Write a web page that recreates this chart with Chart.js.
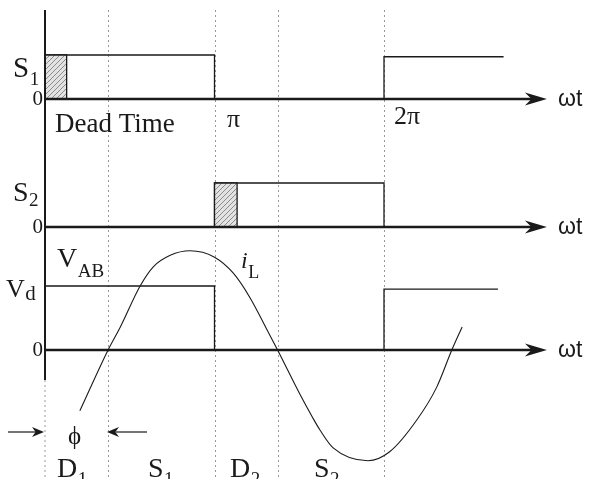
<!DOCTYPE html>
<html>
<head>
<meta charset="utf-8">
<script src="https://cdn.jsdelivr.net/npm/chart.js@4.4.0/dist/chart.umd.min.js"></script>
<style>
html, body { margin: 0; padding: 0; background: #fff; }
#wrap { width: 589px; height: 479px; }
</style>
</head>
<body>
<div id="wrap"><canvas id="chart" width="589" height="479"></canvas></div>
<script>
// ωt in degrees, levels normalised (switch on = 1, V_AB = Vd = 1)
const s1X = [0, 180, 180, 360, 360, 487];
const s1Y = [1, 1, 0, 0, 0.96, 0.96];
const s1DeadX = [0, 23, 23];
const s1DeadY = [1, 1, 0];
const s2X = [180, 180, 360, 360];
const s2Y = [0, 1, 1, 0];
const s2DeadX = [180, 180, 204, 204];
const s2DeadY = [0, 1, 1, 0];
const vabX = [0, 180, 180, 360, 360, 481];
const vabY = [1, 1, 0, 0, 0.95, 0.95];
// inductor current
const iLX = [37, 67, 80, 101, 115, 133, 154, 180, 200, 218, 236, 247, 271, 284, 292, 306, 343, 366, 395, 416, 432, 443];
const iLY = [-0.95, 0, 0.36, 1.0, 1.30, 1.48, 1.55, 1.45, 1.20, 0.81, 0.31, 0, -0.70, -1.05, -1.25, -1.53, -1.73, -1.59, -1.09, -0.58, 0, 0.36];
// dotted guide lines (ϕ, π, zero crossing, 2π)
const guideAngles = [67, 180, 247, 360];
const axisEnd = 533;

function pts(xs, ys) {
    return xs.map((x, i) => ({ x: x, y: ys[i] }));
}

function hatch() {
    const c = document.createElement('canvas');
    c.width = 5; c.height = 5;
    const g = c.getContext('2d');
    g.fillStyle = '#e2e2e2';
    g.fillRect(0, 0, 5, 5);
    g.strokeStyle = '#8c8c8c';
    g.lineWidth = 1;
    g.beginPath(); g.moveTo(0, 5); g.lineTo(5, 0); g.stroke();
    return g.createPattern(c, 'repeat');
}

const ink = '#1a1a1a';
const serif = '"Liberation Serif", "Times New Roman", serif';
const sans = '"Liberation Sans", Arial, sans-serif';

function text(ctx, str, x, y, size, font, style) {
    ctx.font = (style || '') + ' ' + size + 'px ' + font;
    ctx.fillText(str, x, y);
    return x + ctx.measureText(str).width;
}

// main letter with subscript right behind it
function sub(ctx, main, small, x, y, size, subSize, drop, style) {
    const end = text(ctx, main, x, y, size, serif, style);
    text(ctx, small, end + 0.5, y + drop, subSize, serif);
}

function arrowHead(ctx, x, y, dir, len, half) {
    ctx.beginPath();
    ctx.moveTo(x, y);
    ctx.lineTo(x - dir * len, y - half);
    ctx.lineTo(x - dir * len * 0.7, y);
    ctx.lineTo(x - dir * len, y + half);
    ctx.closePath();
    ctx.fill();
}

const decor = {
    id: 'decor',
    beforeDatasetsDraw(chart) {
        const ctx = chart.ctx;
        const x = chart.scales.x;
        ctx.save();
        ctx.strokeStyle = '#999';
        ctx.lineWidth = 1;
        ctx.setLineDash([2, 3]);
        guideAngles.forEach(a => {
            const px = Math.round(x.getPixelForValue(a)) + 0.5;
            ctx.beginPath(); ctx.moveTo(px, 10); ctx.lineTo(px, 479); ctx.stroke();
        });
        const x0 = x.getPixelForValue(0);
        ctx.beginPath(); ctx.moveTo(x0, 380); ctx.lineTo(x0, 479); ctx.stroke();
        ctx.restore();
    },
    afterDatasetsDraw(chart) {
        const ctx = chart.ctx;
        const x = chart.scales.x;
        const x0 = x.getPixelForValue(0);
        const xe = x.getPixelForValue(axisEnd);
        ctx.save();
        ctx.strokeStyle = ink;
        ctx.fillStyle = ink;
        // vertical axis
        ctx.lineWidth = 2;
        ctx.beginPath(); ctx.moveTo(x0, 10); ctx.lineTo(x0, 380); ctx.stroke();
        // zero axes with arrows
        ['yS1', 'yS2', 'yV'].forEach(id => {
            const y0 = chart.scales[id].getPixelForValue(0);
            ctx.lineWidth = 2.5;
            ctx.beginPath(); ctx.moveTo(x0, y0); ctx.lineTo(xe - 10, y0); ctx.stroke();
            arrowHead(ctx, xe, y0, 1, 22, 6.5);
            text(ctx, 'ωt', 558, y0 + 7, 23, sans);
            ctx.textAlign = 'right';
            ctx.textBaseline = 'middle';
            text(ctx, '0', 43, y0, 21, serif);
            ctx.textAlign = 'left';
            ctx.textBaseline = 'alphabetic';
        });
        // labels
        sub(ctx, 'S', '1', 13, 77, 29, 19, 8);
        text(ctx, 'Dead Time', 55, 132, 27, serif);
        text(ctx, 'π', 227, 127, 26, serif);
        text(ctx, '2π', 394, 124, 26, serif);
        sub(ctx, 'S', '2', 13, 201, 28, 19, 5);
        sub(ctx, 'V', 'AB', 57, 267, 28, 19, 10);
        sub(ctx, 'V', 'd', 6, 297, 26, 21, 3);
        sub(ctx, 'i', 'L', 241, 268, 24, 18, 10, 'italic');
        // phase angle arrows
        ctx.lineWidth = 1.2;
        ctx.beginPath(); ctx.moveTo(8, 432); ctx.lineTo(36, 432); ctx.stroke();
        arrowHead(ctx, 44, 432, 1, 12, 5);
        ctx.beginPath(); ctx.moveTo(147, 432); ctx.lineTo(116, 432); ctx.stroke();
        arrowHead(ctx, 107, 432, -1, 12, 5);
        text(ctx, 'ϕ', 68, 444, 25, serif);
        // conduction intervals
        sub(ctx, 'D', '1', 57, 477, 28, 19, 8);
        sub(ctx, 'S', '1', 148, 477, 28, 19, 8);
        sub(ctx, 'D', '2', 230, 477, 28, 19, 8);
        sub(ctx, 'S', '2', 314, 477, 28, 19, 8);
        ctx.restore();
    }
};

const pattern = hatch();
const lineStyle = { borderColor: ink, borderWidth: 1.3, pointRadius: 0, tension: 0, fill: false, clip: false };

new Chart(document.getElementById('chart'), {
    type: 'line',
    data: {
        datasets: [
            Object.assign({}, lineStyle, { label: 'S1 dead', data: pts(s1DeadX, s1DeadY), yAxisID: 'yS1', fill: 'origin', backgroundColor: pattern }),
            Object.assign({}, lineStyle, { label: 'S1', data: pts(s1X, s1Y), yAxisID: 'yS1' }),
            Object.assign({}, lineStyle, { label: 'S2 dead', data: pts(s2DeadX, s2DeadY), yAxisID: 'yS2', fill: 'origin', backgroundColor: pattern }),
            Object.assign({}, lineStyle, { label: 'S2', data: pts(s2X, s2Y), yAxisID: 'yS2' }),
            Object.assign({}, lineStyle, { label: 'VAB', data: pts(vabX, vabY), yAxisID: 'yV' }),
            Object.assign({}, lineStyle, { label: 'iL', data: pts(iLX, iLY), yAxisID: 'yV', borderWidth: 1.1, cubicInterpolationMode: 'monotone' })
        ]
    },
    options: {
        responsive: false,
        animation: false,
        events: [],
        layout: { padding: { left: 45, right: 35.5, top: 11, bottom: 0 } },
        plugins: { legend: { display: false }, tooltip: { enabled: false } },
        scales: {
            x: { type: 'linear', min: 0, max: 540, display: false },
            yS1: { type: 'linear', position: 'left', stack: 'panels', stackWeight: 154, weight: 3, min: -1.5, max: 2, display: false },
            yS2: { type: 'linear', position: 'left', stack: 'panels', stackWeight: 84, weight: 2, min: -0.5, max: 62 / 44, display: false },
            yV: { type: 'linear', position: 'left', stack: 'panels', stackWeight: 230, weight: 1, min: -129 / 64, max: 101 / 64, display: false }
        }
    },
    plugins: [decor]
});
</script>
</body>
</html>
